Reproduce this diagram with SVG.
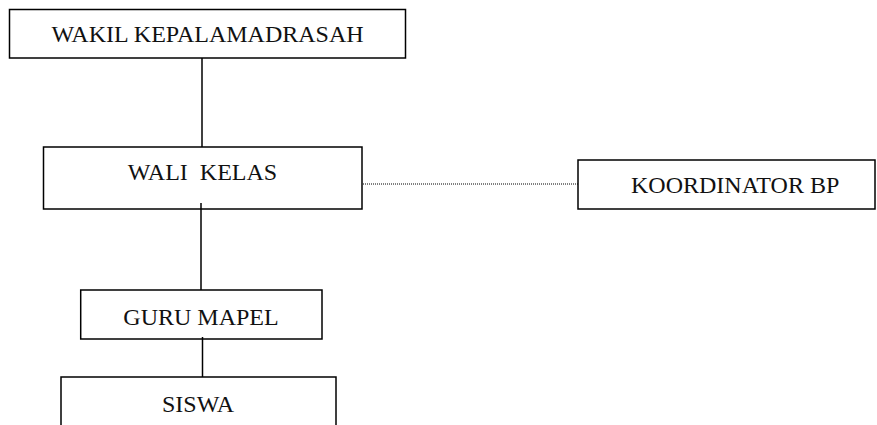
<svg xmlns="http://www.w3.org/2000/svg" width="877" height="425" viewBox="0 0 877 425">
<style>
.box{fill:#fff;stroke:#000;stroke-width:1.5}
.lbl{font-family:"Liberation Serif","Times New Roman",serif;font-size:24px;fill:#111}
.con{stroke:#000;stroke-width:1.5;fill:none}
.dot{stroke:#000;stroke-width:1;stroke-dasharray:1 1;fill:none}
</style>
<rect width="877" height="425" fill="#fff"/>
<g id="connectors">
<line class="con" x1="202" y1="58" x2="202" y2="147"/>
<line class="con" x1="201" y1="203" x2="201" y2="290"/>
<line class="con" x1="202.5" y1="337" x2="202.5" y2="377"/>
<line class="dot" x1="363" y1="184" x2="578" y2="184"/>
</g>
<g id="wakil">
<rect class="box" x="9.5" y="9.5" width="396" height="48.5"/>
<text class="lbl" x="207.5" y="42.3" text-anchor="middle">WAKIL KEPALAMADRASAH</text>
</g>
<g id="wali">
<rect class="box" x="43.5" y="147" width="318.5" height="62" fill-opacity="0"/>
<text class="lbl" x="202.5" y="180" text-anchor="middle" xml:space="preserve">WALI  KELAS</text>
</g>
<g id="koordinator">
<rect class="box" x="578" y="160" width="297" height="49"/>
<text class="lbl" x="631" y="193.3">KOORDINATOR BP</text>
</g>
<g id="guru">
<rect class="box" x="80.7" y="290" width="241.3" height="49" fill-opacity="0"/>
<text class="lbl" x="201" y="325" text-anchor="middle">GURU MAPEL</text>
</g>
<g id="siswa">
<rect class="box" x="61" y="377" width="275" height="70"/>
<text class="lbl" x="198" y="411.7" text-anchor="middle">SISWA</text>
</g>
</svg>
